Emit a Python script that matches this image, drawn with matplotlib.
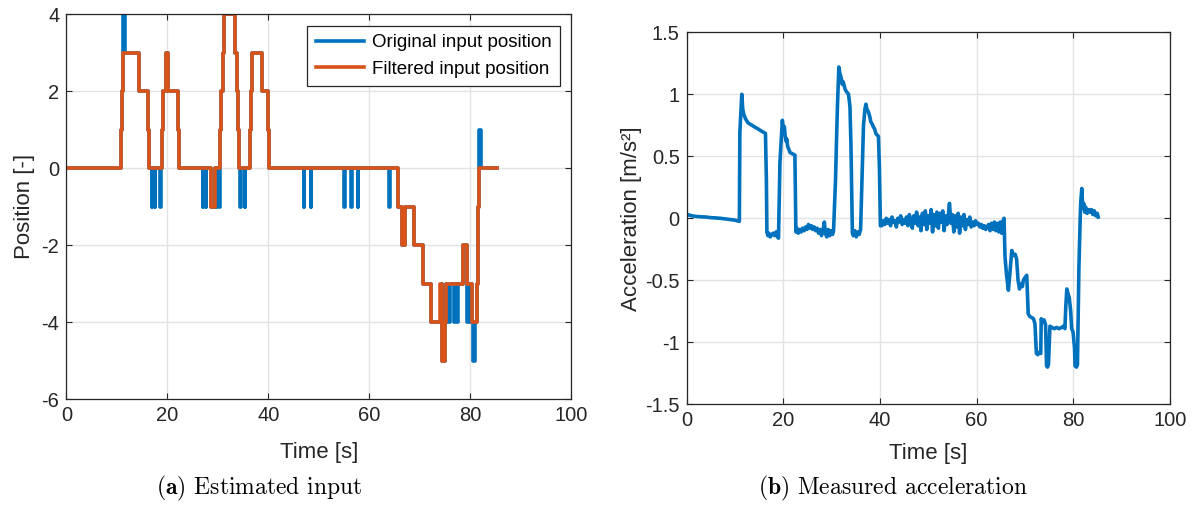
import matplotlib
matplotlib.use('Agg')
import matplotlib.pyplot as plt
from matplotlib.ticker import FormatStrFormatter
from matplotlib.lines import Line2D

plt.rcParams['font.family'] = ['Liberation Sans Narrow', 'Liberation Sans', 'DejaVu Sans']
plt.rcParams['axes.unicode_minus'] = False
plt.rcParams['mathtext.fontset'] = 'cm'

BLUE = '#0072BD'
ORANGE = '#D95319'

# --- (a) filtered input position: step start times and levels
orange_t = [0.0, 10.9, 11.0, 11.2, 14.3, 16.2, 16.4, 19.0, 19.2, 19.7, 20.2, 22.2, 22.4,
            28.6, 29.4, 30.5, 30.7, 31.0, 31.2, 33.5, 33.8, 34.0, 34.2, 36.3, 36.5, 36.8,
            38.8, 40.0, 40.1, 65.7, 66.4, 67.1, 68.8, 70.6, 72.3, 74.0, 74.4, 75.0, 75.2,
            78.5, 79.3, 80.3, 81.4, 81.5, 81.6, 81.7, 85.3]
orange_v = [0, 1, 2, 3, 2, 1, 0, 1, 2, 3, 2, 1, 0,
            -1, 0, 1, 2, 3, 4, 3, 2, 1, 0, 1, 2, 3,
            2, 1, 0, -1, -2, -1, -2, -3, -4, -3, -5, -4, -3,
            -2, -3, -4, -3, -2, -1, 0, 0]

# original input position = filtered one plus short outliers (start, length, level)
spike_t = [11.2, 16.9, 17.5, 18.6, 27.0, 27.6, 29.6, 30.2, 34.4, 35.3, 47.0, 48.4,
           55.0, 56.4, 57.7, 63.9, 74.0, 75.4, 76.8, 77.4, 79.4, 80.6, 81.8]
spike_w = [0.35, 0.15, 0.15, 0.15, 0.15, 0.15, 0.15, 0.15, 0.15, 0.15, 0.15, 0.15,
           0.15, 0.15, 0.15, 0.15, 0.3, 0.5, 0.25, 0.25, 0.45, 0.3, 0.25]
spike_v = [4, -1, -1, -1, -1, -1, -1, -1, -1, -1, -1, -1,
           -1, -1, -1, -1, -4, -4, -4, -4, -4, -5, 1]

# --- (b) measured acceleration
acc_t = [0.0, 0.2, 1.0, 2.0, 3.0, 4.0, 5.0, 6.0, 7.0, 8.0, 9.0, 10.0, 10.9,
         11.0, 11.4, 11.6, 11.8, 12.2, 12.7, 13.1, 13.9, 14.8, 15.6, 16.3, 16.5, 16.6,
         16.8, 17.0, 17.3, 17.6, 17.9, 18.2, 18.5, 18.8, 19.0,
         19.3, 19.8, 20.0, 20.2, 20.4, 20.6, 20.7, 20.9, 21.2, 21.4, 21.9, 22.4, 22.6,
         22.8, 23.1, 23.4, 23.7, 24.0, 24.3, 24.6, 24.9, 25.2, 25.5, 25.8, 26.1, 26.4,
         26.7, 27.0, 27.3, 27.6, 27.9, 28.2, 28.5, 28.7, 29.0, 29.3, 29.6, 29.9, 30.2,
         30.4, 30.8, 31.2, 31.5, 31.7, 32.0, 32.2, 32.4, 32.8, 33.1, 33.5, 33.8, 34.0, 34.3,
         34.5, 34.8, 35.1, 35.4, 35.7, 36.0,
         36.2, 36.6, 36.9, 37.1, 37.3, 37.6, 37.9, 38.1, 38.4, 38.6, 38.9, 39.2, 39.7, 39.9, 40.1,
         40.4, 40.7, 41.0, 41.3, 41.6, 41.9, 42.2, 42.5, 42.8, 43.1, 43.4, 43.7, 44.0, 44.3,
         44.6, 44.9, 45.2, 45.5, 45.8, 46.1, 46.4, 46.7, 47.0, 47.3, 47.6, 47.9, 48.2, 48.5,
         48.8, 49.1, 49.4, 49.7, 50.0, 50.3, 50.6, 50.9, 51.2, 51.5, 51.8, 52.1, 52.4, 52.7,
         53.0, 53.3, 53.6, 53.9, 54.2, 54.4, 54.7, 55.0, 55.3, 55.6, 55.9, 56.2, 56.5, 56.8,
         57.1, 57.4, 57.7, 58.0, 58.3, 58.6, 58.9, 59.2, 59.5, 59.8, 60.1, 60.4, 60.7, 61.0,
         61.3, 61.6, 61.9, 62.2, 62.5, 62.8, 63.1, 63.4, 63.7, 64.0, 64.3, 64.6, 64.9, 65.2,
         65.5, 65.7,
         65.9, 66.2, 66.6, 66.9, 67.3, 67.6, 68.0, 68.3, 68.6, 68.9, 69.2, 69.5, 69.7, 70.0,
         70.4, 70.7, 71.0, 71.4, 71.8, 72.1, 72.4, 72.7, 73.0, 73.3, 73.4, 73.7, 74.0, 74.3,
         74.5, 74.7, 74.9, 75.2, 75.6, 76.1, 76.6, 77.1, 77.6, 78.0, 78.3, 78.5, 78.7, 78.9,
         79.2, 79.5, 79.7, 80.0, 80.3, 80.4, 80.7, 80.9, 81.2, 81.5, 81.6, 81.8, 82.0, 82.2,
         82.4, 82.6, 82.9, 83.2, 83.5, 83.8, 84.1, 84.4, 84.7, 85.0, 85.2]
acc_v = [0.025, 0.03, 0.02, 0.015, 0.012, 0.01, 0.005, 0.003, 0.0, -0.005, -0.01, -0.015, -0.025,
         0.69, 1.0, 0.88, 0.84, 0.80, 0.77, 0.76, 0.74, 0.72, 0.70, 0.685, 0.3, -0.11,
         -0.14, -0.12, -0.15, -0.13, -0.12, -0.14, -0.11, -0.15, -0.16,
         0.45, 0.79, 0.72, 0.74, 0.66, 0.62, 0.64, 0.58, 0.55, 0.53, 0.52, 0.51, -0.11,
         -0.08, -0.12, -0.09, -0.11, -0.08, -0.10, -0.07, -0.09, -0.05, -0.08, -0.06, -0.09, -0.07,
         -0.10, -0.08, -0.12, -0.09, -0.14, -0.10, -0.03, -0.12, -0.15, -0.09, -0.14, -0.10, -0.13,
         -0.10, 0.3, 0.9, 1.22, 1.17, 1.13, 1.08, 1.10, 1.04, 1.02, 1.0, 0.9, 0.6, -0.12,
         -0.14, -0.10, -0.15, -0.11, -0.13, -0.09,
         0.2, 0.75, 0.88, 0.92, 0.88, 0.86, 0.82, 0.78, 0.76, 0.74, 0.72, 0.68, 0.66, 0.4, -0.06,
         -0.06, -0.02, -0.05, 0.00, -0.04, -0.01, -0.06, 0.01, -0.03, -0.02, -0.07, 0.00, -0.03, 0.02,
         -0.05, -0.01, -0.04, 0.01, -0.06, 0.03, -0.03, -0.08, 0.02, -0.04, 0.05, -0.06, 0.01, -0.10,
         0.04, -0.05, 0.06, -0.09, 0.02, -0.04, 0.07, -0.11, 0.03, -0.06, 0.05, -0.08, 0.04, -0.03,
         0.06, -0.10, 0.02, -0.05, 0.04, 0.12, -0.04, 0.03, -0.11, 0.02, -0.07, 0.04, -0.12, 0.01,
         -0.06, 0.03, -0.09, -0.01, -0.05, 0.01, -0.07, -0.03, -0.06, -0.02, -0.05, -0.04, -0.07, -0.05,
         -0.08, -0.06, -0.09, -0.07, -0.05, -0.10, -0.04, -0.09, -0.03, -0.10, -0.04, -0.11, -0.03, -0.12,
         -0.02, 0.0,
         -0.31, -0.45, -0.58, -0.45, -0.26, -0.30, -0.29, -0.33, -0.50, -0.57, -0.53, -0.55, -0.50, -0.48,
         -0.46, -0.77, -0.79, -0.80, -0.81, -0.85, -1.09, -1.10, -1.08, -1.09, -0.81, -0.84, -0.82, -0.86,
         -1.19, -1.20, -1.18, -0.87, -0.88, -0.89, -0.88, -0.89, -0.88, -0.87, -0.89, -0.70, -0.57, -0.60,
         -0.64, -0.75, -0.89, -0.92, -1.05, -1.19, -1.20, -1.18, -0.40, 0.05, 0.14, 0.24, 0.08, 0.12,
         0.05, 0.09, 0.04, 0.07, 0.05, 0.07, 0.03, 0.06, 0.02, 0.04, 0.01]


def level_at(t):
    lev = orange_v[0]
    for ts, v in zip(orange_t, orange_v):
        if ts <= t:
            lev = v
    return lev


# merge spikes into the filtered steps
pts = dict(zip(orange_t, orange_v))
for ts, w, v in zip(spike_t, spike_w, spike_v):
    end = ts + w
    pts[end] = level_at(end)
    pts[ts] = v
blue_t = sorted(pts)
blue_v = [pts[k] for k in blue_t]

LW = 2.6


def style_axes(ax):
    ax.grid(True, color='#e3e3e3', linewidth=1.0)
    ax.set_axisbelow(True)
    ax.tick_params(direction='in', length=4, width=0.8, top=True, right=True,
                   labelsize=14.5, colors='#262626', pad=5)
    for s in ax.spines.values():
        s.set_color('#262626')
        s.set_linewidth(0.9)


fig = plt.figure(figsize=(11.97, 5.14), dpi=100)

ax1 = fig.add_axes([0.0554, 0.2232, 0.4219, 0.7490])
ax1.plot(blue_t, blue_v, color=BLUE, lw=LW, drawstyle='steps-post')
ax1.plot(orange_t, orange_v, color=ORANGE, lw=LW, drawstyle='steps-post')
ax1.set_xlim(0, 100)
ax1.set_ylim(-6, 4)
ax1.set_xticks(range(0, 101, 20))
ax1.set_yticks(range(-6, 5, 2))
ax1.set_xlabel('Time [s]', fontsize=16, color='#262626', labelpad=12)
ax1.set_ylabel('Position [-]', fontsize=16, color='#262626', labelpad=5)
style_axes(ax1)
handles = [Line2D([], [], color=BLUE, lw=LW), Line2D([], [], color=ORANGE, lw=LW)]
leg = ax1.legend(handles, ['Original input position', 'Filtered input position'],
                 loc='upper right', fontsize=13.5, fancybox=False, framealpha=1,
                 edgecolor='#262626', handlelength=2.6, borderaxespad=0.6,
                 borderpad=0.45, labelspacing=0.5, handletextpad=0.4)
leg.get_frame().set_linewidth(0.9)

ax2 = fig.add_axes([0.5737, 0.2134, 0.4035, 0.7238])
ax2.plot(acc_t, acc_v, color=BLUE, lw=LW)
ax2.set_xlim(0, 100)
ax2.set_ylim(-1.5, 1.5)
ax2.set_xticks(range(0, 101, 20))
ax2.set_yticks([-1.5, -1, -0.5, 0, 0.5, 1, 1.5])
ax2.yaxis.set_major_formatter(FormatStrFormatter('%g'))
ax2.set_xlabel('Time [s]', fontsize=16, color='#262626', labelpad=9)
ax2.set_ylabel('Acceleration [m/s²]', fontsize=16, color='#262626', labelpad=2)
style_axes(ax2)

fig.text(0.2168, 0.0506, r'$\mathbf{(a)}$ Estimated input', family='cmr10',
         fontsize=17, ha='center', va='center')
fig.text(0.746, 0.0506, r'$\mathbf{(b)}$ Measured acceleration', family='cmr10',
         fontsize=17, ha='center', va='center')

fig.savefig('out.png', dpi=100)
